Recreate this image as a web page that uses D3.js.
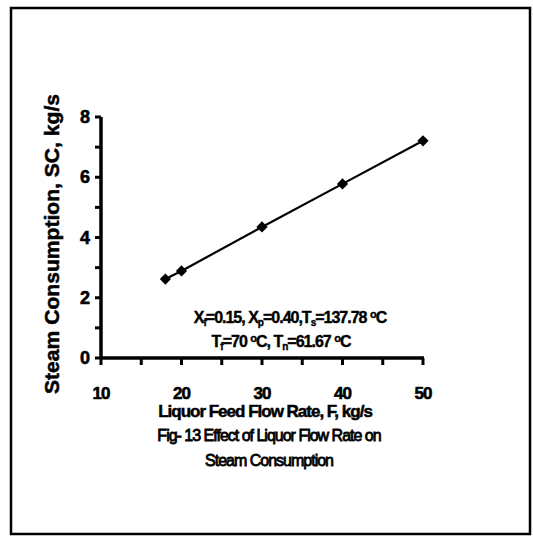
<!DOCTYPE html>
<html>
<head>
<meta charset="utf-8">
<script src="https://cdn.jsdelivr.net/npm/d3@7"></script>
<style>
  body { margin: 0; background: #fff; }
  svg { display: block; font-family: "Liberation Sans", Arial, sans-serif; }
</style>
</head>
<body>
<svg id="chart" width="533" height="536"></svg>
<script>
const feedRate = [18, 20, 30, 40, 50];
const steamUse = [2.62, 2.89, 4.35, 5.78, 7.21];
const xTicks = [10, 20, 30, 40, 50];
const yTicks = [0, 2, 4, 6, 8];

const svg = d3.select('#chart');

// scanned frame around the figure
svg.append('rect')
  .attr('x', 11).attr('y', 8)
  .attr('width', 519).attr('height', 526)
  .attr('fill', 'none')
  .attr('stroke', '#000')
  .attr('stroke-width', 2.5);

const x = d3.scaleLinear().domain([10, 50]).range([101, 423]);
const y = d3.scaleLinear().domain([0, 8]).range([358, 117]);

// axes drawn by hand so the heavy scanned strokes show
const axes = svg.append('g').attr('stroke', '#000');
axes.append('line')
  .attr('x1', x(10)).attr('x2', x(50) + 1)
  .attr('y1', y(0)).attr('y2', y(0))
  .attr('stroke-width', 3.5);
axes.append('line')
  .attr('x1', x(10)).attr('x2', x(10))
  .attr('y1', y(0) + 1).attr('y2', y(8))
  .attr('stroke-width', 3.5);
axes.selectAll('.xt')
  .data(d3.range(10, 51, 5))
  .join('line')
  .attr('class', 'xt')
  .attr('x1', d => x(d)).attr('x2', d => x(d))
  .attr('y1', y(0)).attr('y2', y(0) + 7)
  .attr('stroke-width', 3);
axes.selectAll('.yt')
  .data(d3.range(0, 9, 1))
  .join('line')
  .attr('class', 'yt')
  .attr('x1', x(10) - 6).attr('x2', x(10))
  .attr('y1', d => y(d)).attr('y2', d => y(d))
  .attr('stroke-width', 3);

// tick labels
svg.append('g')
  .selectAll('text')
  .data(xTicks)
  .join('text')
  .attr('x', d => x(d))
  .attr('y', 399)
  .attr('text-anchor', 'middle')
  .attr('font-size', 17)
  .attr('font-weight', 'bold')
  .attr('letter-spacing', -1)
  .attr('stroke', '#000')
  .attr('stroke-width', 0.6)
  .text(d => d);

svg.append('g')
  .selectAll('text')
  .data(yTicks)
  .join('text')
  .attr('x', 90)
  .attr('y', d => y(d) + 6)
  .attr('text-anchor', 'end')
  .attr('font-size', 18)
  .attr('font-weight', 'bold')
  .attr('stroke', '#000')
  .attr('stroke-width', 0.6)
  .text(d => d);

// series
const pts = feedRate.map((f, i) => [f, steamUse[i]]);
svg.append('path')
  .datum(pts)
  .attr('fill', 'none')
  .attr('stroke', '#000')
  .attr('stroke-width', 2.2)
  .attr('d', d3.line().x(d => x(d[0])).y(d => y(d[1])));

svg.append('g')
  .selectAll('path')
  .data(pts)
  .join('path')
  .attr('transform', d => `translate(${x(d[0])},${y(d[1])})`)
  .attr('d', d3.symbol(d3.symbolDiamond2, 80))
  .attr('fill', '#000');

// axis titles
svg.append('text')
  .attr('transform', 'translate(59,244) rotate(-90)')
  .attr('text-anchor', 'middle')
  .attr('font-size', 20)
  .attr('font-weight', 'bold')
  .attr('textLength', 300)
  .attr('lengthAdjust', 'spacingAndGlyphs')
  .attr('stroke', '#000')
  .attr('stroke-width', 0.5)
  .text('Steam Consumption, SC, kg/s');

svg.append('text')
  .attr('x', 265).attr('y', 417)
  .attr('text-anchor', 'middle')
  .attr('font-size', 17)
  .attr('font-weight', 'bold')
  .attr('letter-spacing', -1)
  .attr('stroke', '#000')
  .attr('stroke-width', 0.5)
  .text('Liquor Feed Flow Rate, F, kg/s');

const caption = ['Fig- 13  Effect of Liquor Flow Rate on', 'Steam Consumption'];
svg.append('g')
  .selectAll('text')
  .data(caption)
  .join('text')
  .attr('x', 269)
  .attr('y', (d, i) => 441 + i * 25)
  .attr('text-anchor', 'middle')
  .attr('font-size', 16)
  .attr('letter-spacing', -1)
  .attr('stroke', '#000')
  .attr('stroke-width', 0.8)
  .text(d => d);

// operating conditions note
function note(yPos, cx, parts) {
  const t = svg.append('text')
    .attr('x', cx).attr('y', yPos)
    .attr('text-anchor', 'middle')
    .attr('font-size', 16)
    .attr('font-weight', 'bold')
    .attr('letter-spacing', -1)
    .attr('stroke', '#000')
    .attr('stroke-width', 0.4);
  parts.forEach(p => {
    const s = t.append('tspan').text(p[0]);
    if (p[1] === 'sub') s.attr('baseline-shift', '-25%').attr('font-size', 10);
    if (p[1] === 'sup') s.attr('baseline-shift', '45%').attr('font-size', 11);
  });
}
note(323, 290, [
  ['X'], ['f', 'sub'], ['=0.15, X'], ['p', 'sub'], ['=0.40,T'], ['s', 'sub'],
  ['=137.78 '], ['o', 'sup'], ['C']
]);
note(347, 281, [
  ['T'], ['f', 'sub'], ['=70 '], ['o', 'sup'], ['C, T'], ['n', 'sub'],
  ['=61.67 '], ['o', 'sup'], ['C']
]);
</script>
</body>
</html>
